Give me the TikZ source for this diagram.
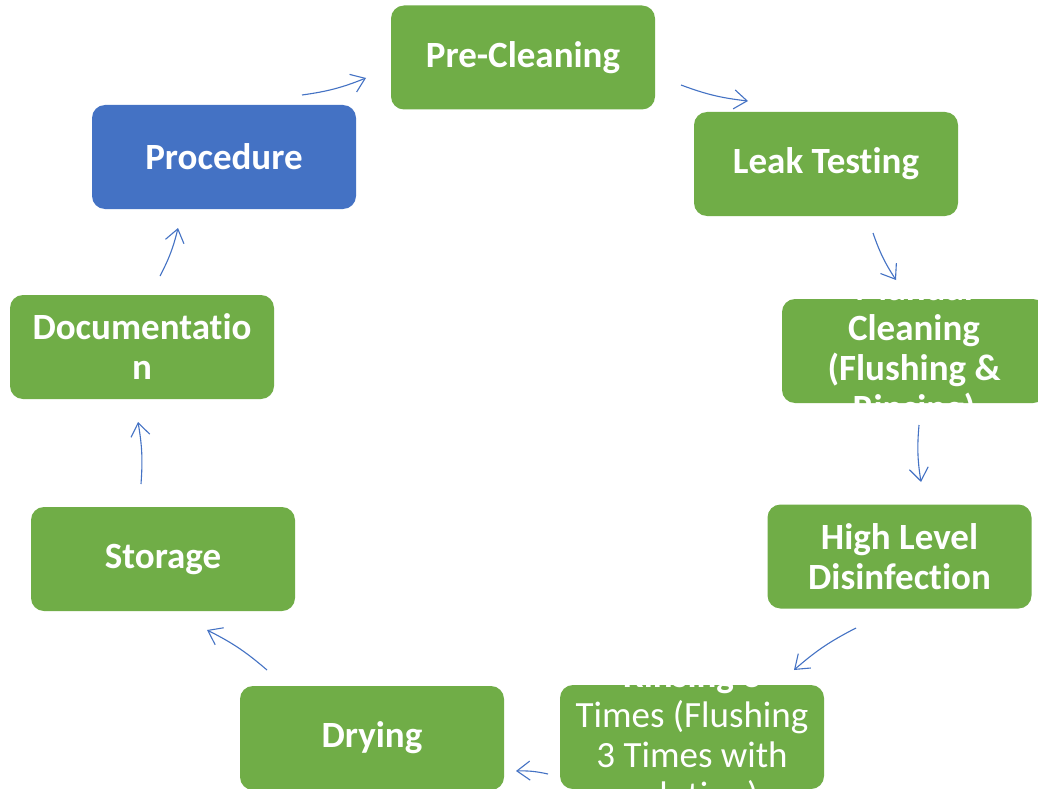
\documentclass[tikz,border=0pt]{standalone}
\usepackage{fontspec}
\setmainfont[Ligatures=NoCommon]{Carlito}
\usetikzlibrary{arrows.meta}
\definecolor{boxgreen}{HTML}{70AD47}
\definecolor{boxblue}{HTML}{4472C4}
\definecolor{arrowblue}{HTML}{4472C4}
\begin{document}
\begin{tikzpicture}[x=1pt,y=-1pt,
  stepbox/.style={fill=boxgreen, rounded corners=13pt, minimum width=264pt, minimum height=104pt,
    inner sep=0pt, text=white, align=center, font=\bfseries\fontsize{37}{40}\selectfont},
  bluebox/.style={stepbox, fill=boxblue},
  boxtext/.style={inner sep=0pt, text=white, align=center, font=\bfseries\fontsize{37}{40}\selectfont},
  flow/.style={draw=arrowblue, line width=1.1pt, -{Straight Barb[length=13pt,width=19pt,line width=1.1pt]}, bend right=7}
]
\path[use as bounding box, fill=white] (0,0) rectangle (1038,789);
\begin{scope}
\clip (0,0) rectangle (1038,789);
\node[stepbox] (pre) at (523,57.5) {Pre-Cleaning};
\node[stepbox] (leak) at (826,164) {Leak Testing};
\node[stepbox] (manual) at (914,351) {};
\node[stepbox] (hld) at (899.5,556.5) {High Level\\Disinfection};
\node[stepbox] (rinse) at (692,737) {};
\node[stepbox] (dry) at (372,738) {Drying};
\node[stepbox] (store) at (163,559) {Storage};
\node[stepbox] (doc) at (142,347) {Documentatio\\n};
\node[bluebox] (proc) at (224,157) {Procedure};
\begin{scope}
\clip[rounded corners=13pt] (manual.south west) rectangle (manual.north east);
\node[boxtext] (manualtext) at (manual.center) {Manual\\Cleaning\\(Flushing \&\\Rinsing)};
\end{scope}
\begin{scope}
\clip[rounded corners=13pt] (rinse.south west) rectangle (rinse.north east);
\node[boxtext, font=\fontsize{37}{40}\selectfont] (rinsetext) at (rinse.center) {\textbf{Rinsing 3}\\Times (Flushing\\3 Times with\\solution)};
\end{scope}
\coordinate (a1s) at (302,95);  \coordinate (a1e) at (366,78);
\coordinate (a2s) at (681,85);  \coordinate (a2e) at (748,101);
\coordinate (a3s) at (873,233); \coordinate (a3e) at (896,280);
\coordinate (a4s) at (919,425); \coordinate (a4e) at (921,482);
\coordinate (a5s) at (856,628); \coordinate (a5e) at (794,670);
\coordinate (a6s) at (548,774); \coordinate (a6e) at (516,771);
\coordinate (a7s) at (267,670); \coordinate (a7e) at (207,630);
\coordinate (a8s) at (141,484); \coordinate (a8e) at (138,422);
\coordinate (a9s) at (160,276); \coordinate (a9e) at (178,228);
\draw[flow] (a1s) to (a1e);
\draw[flow] (a2s) to (a2e);
\draw[flow] (a3s) to (a3e);
\draw[flow] (a4s) to (a4e);
\draw[flow] (a5s) to (a5e);
\draw[flow] (a6s) to (a6e);
\draw[flow] (a7s) to (a7e);
\draw[flow] (a8s) to (a8e);
\draw[flow] (a9s) to (a9e);
\end{scope}
\end{tikzpicture}
\end{document}
